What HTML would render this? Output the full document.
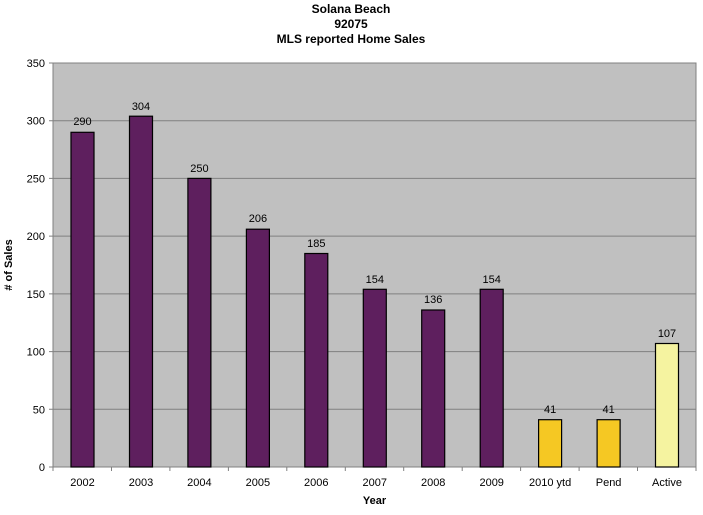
<!DOCTYPE html>
<html><head><meta charset="utf-8"><style>body{margin:0;background:#fff}</style></head><body>
<svg width="703" height="510" xmlns="http://www.w3.org/2000/svg" font-family="Liberation Sans, Arial, sans-serif">
<rect width="703" height="510" fill="#fff"/>
<text x="351" y="13" font-size="12" font-weight="bold" text-anchor="middle">Solana Beach</text>
<text x="351" y="28" font-size="12" font-weight="bold" text-anchor="middle">92075</text>
<text x="351" y="43" font-size="12" font-weight="bold" text-anchor="middle">MLS reported Home Sales</text>
<rect x="53" y="63" width="643" height="404" fill="#c0c0c0" stroke="#808080" stroke-width="1"/>
<g stroke="#808080" stroke-width="1">
<line x1="49" y1="63" x2="696" y2="63"/>
<line x1="49" y1="120.7" x2="696" y2="120.7"/>
<line x1="49" y1="178.4" x2="696" y2="178.4"/>
<line x1="49" y1="236.1" x2="696" y2="236.1"/>
<line x1="49" y1="293.9" x2="696" y2="293.9"/>
<line x1="49" y1="351.6" x2="696" y2="351.6"/>
<line x1="49" y1="409.3" x2="696" y2="409.3"/>
<line x1="49" y1="467" x2="696" y2="467"/>
</g>
<g font-size="11" text-anchor="end">
<text x="45" y="67">350</text><text x="45" y="124.7">300</text><text x="45" y="182.4">250</text><text x="45" y="240.1">200</text><text x="45" y="297.9">150</text><text x="45" y="355.6">100</text><text x="45" y="413.3">50</text><text x="45" y="471">0</text>
</g>
<g stroke="#808080">
<line x1="53" y1="467" x2="53" y2="471"/><line x1="111.5" y1="467" x2="111.5" y2="471"/><line x1="169.9" y1="467" x2="169.9" y2="471"/><line x1="228.4" y1="467" x2="228.4" y2="471"/><line x1="286.8" y1="467" x2="286.8" y2="471"/><line x1="345.3" y1="467" x2="345.3" y2="471"/><line x1="403.7" y1="467" x2="403.7" y2="471"/><line x1="462.2" y1="467" x2="462.2" y2="471"/><line x1="520.6" y1="467" x2="520.6" y2="471"/><line x1="579.1" y1="467" x2="579.1" y2="471"/><line x1="637.5" y1="467" x2="637.5" y2="471"/><line x1="696" y1="467" x2="696" y2="471"/>
</g>
<g stroke="#000" stroke-width="1.2">
<rect x="71" y="132.3" width="23" height="334.7" fill="#5e1f5e"/>
<rect x="129.5" y="116.2" width="23" height="350.8" fill="#5e1f5e"/>
<rect x="187.9" y="178.4" width="23" height="288.6" fill="#5e1f5e"/>
<rect x="246.4" y="229.2" width="23" height="237.8" fill="#5e1f5e"/>
<rect x="304.8" y="253.5" width="23" height="213.5" fill="#5e1f5e"/>
<rect x="363.3" y="289.3" width="23" height="177.7" fill="#5e1f5e"/>
<rect x="421.7" y="310" width="23" height="157" fill="#5e1f5e"/>
<rect x="480.2" y="289.3" width="23" height="177.7" fill="#5e1f5e"/>
<rect x="538.6" y="419.7" width="23" height="47.3" fill="#f5c823"/>
<rect x="597.1" y="419.7" width="23" height="47.3" fill="#f5c823"/>
<rect x="655.5" y="343.5" width="23" height="123.5" fill="#f5f3a0"/>
</g>
<g font-size="11" text-anchor="middle">
<text x="82.5" y="125">290</text><text x="141" y="110">304</text><text x="199.4" y="172">250</text><text x="257.9" y="222">206</text><text x="316.3" y="247">185</text><text x="374.8" y="283">154</text><text x="433.2" y="303">136</text><text x="491.7" y="283">154</text><text x="550.1" y="413">41</text><text x="608.6" y="413">41</text><text x="667" y="337">107</text>
</g>
<g font-size="11" text-anchor="middle">
<text x="82.5" y="486">2002</text><text x="141" y="486">2003</text><text x="199.4" y="486">2004</text><text x="257.9" y="486">2005</text><text x="316.3" y="486">2006</text><text x="374.8" y="486">2007</text><text x="433.2" y="486">2008</text><text x="491.7" y="486">2009</text><text x="550.1" y="486">2010 ytd</text><text x="608.6" y="486">Pend</text><text x="667" y="486">Active</text>
</g>
<text x="374.5" y="504" font-size="11" font-weight="bold" text-anchor="middle">Year</text>
<text transform="translate(12,265) rotate(-90)" font-size="11" font-weight="bold" text-anchor="middle"># of Sales</text>
</svg>
</body></html>
